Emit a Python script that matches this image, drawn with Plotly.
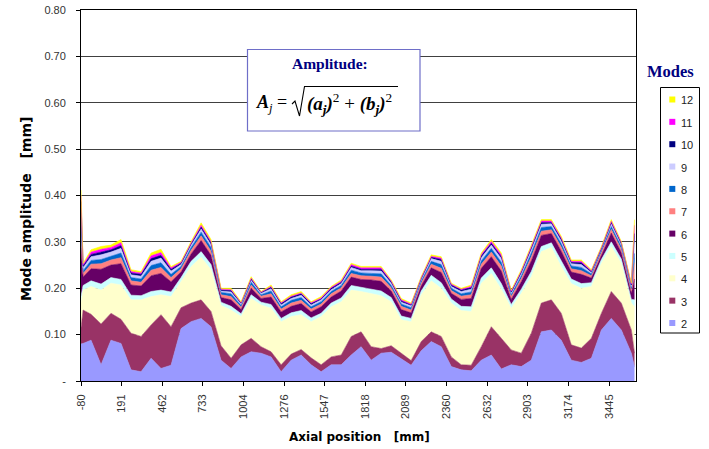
import plotly.graph_objects as go

# ---------------- data ----------------
axial_mm = [-80, -66, -13, 54, 120, 187, 254, 321, 388, 454, 521, 588, 655, 722, 788,
            855, 922, 989, 1056, 1122, 1189, 1256, 1323, 1390, 1456, 1523, 1590, 1657,
            1724, 1790, 1857, 1924, 1991, 2058, 2124, 2191, 2258, 2325, 2392, 2458,
            2525, 2592, 2659, 2726, 2792, 2859, 2926, 2993, 3060, 3126, 3193, 3260,
            3327, 3394, 3460, 3527, 3594, 3615]

mode2 = [0.080, 0.081, 0.088, 0.035, 0.088, 0.081, 0.024, 0.020, 0.049, 0.027, 0.034, 0.113,
         0.128, 0.135, 0.117, 0.045, 0.027, 0.052, 0.063, 0.060, 0.052, 0.020, 0.045, 0.056,
         0.035, 0.020, 0.035, 0.035, 0.056, 0.074, 0.045, 0.060, 0.062, 0.048, 0.034, 0.065,
         0.085, 0.074, 0.031, 0.024, 0.022, 0.045, 0.056, 0.026, 0.035, 0.031, 0.045, 0.106,
         0.110, 0.088, 0.045, 0.040, 0.049, 0.110, 0.135, 0.110, 0.060, 0.030]
mode3 = [0.035, 0.072, 0.056, 0.088, 0.058, 0.052, 0.079, 0.076, 0.072, 0.116, 0.083, 0.045,
         0.040, 0.040, 0.033, 0.031, 0.022, 0.026, 0.029, 0.014, 0.011, 0.015, 0.013, 0.012,
         0.015, 0.015, 0.017, 0.021, 0.040, 0.032, 0.029, 0.010, 0.014, 0.012, 0.010, 0.020,
         0.021, 0.022, 0.021, 0.011, 0.012, 0.029, 0.061, 0.066, 0.032, 0.029, 0.058, 0.062,
         0.065, 0.058, 0.033, 0.031, 0.043, 0.036, 0.058, 0.058, 0.050, 0.030]
mode4 = [0.055, 0.043, 0.060, 0.073, 0.065, 0.074, 0.072, 0.079, 0.061, 0.043, 0.065, 0.056,
         0.079, 0.092, 0.090, 0.087, 0.104, 0.061, 0.086, 0.090, 0.094, 0.093, 0.081, 0.075,
         0.078, 0.104, 0.108, 0.115, 0.100, 0.087, 0.115, 0.114, 0.095, 0.072, 0.084, 0.101,
         0.110, 0.104, 0.116, 0.117, 0.116, 0.137, 0.115, 0.106, 0.090, 0.129, 0.122, 0.111,
         0.113, 0.101, 0.132, 0.129, 0.112, 0.108, 0.097, 0.086, 0.058, 0.100]
mode5 = [0.012, 0.010, 0.012, 0.013, 0.012, 0.012, 0.010, 0.009, 0.011, 0.010, 0.010, 0.009,
         0.011, 0.012, 0.011, 0.007, 0.008, 0.006, 0.008, 0.006, 0.008, 0.007, 0.008, 0.009,
         0.008, 0.007, 0.008, 0.008, 0.010, 0.009, 0.010, 0.010, 0.009, 0.008, 0.007, 0.008,
         0.012, 0.012, 0.009, 0.009, 0.010, 0.011, 0.012, 0.012, 0.008, 0.009, 0.011, 0.011,
         0.010, 0.011, 0.010, 0.010, 0.008, 0.008, 0.010, 0.009, 0.008, 0.015]
mode6 = [0.105, 0.018, 0.026, 0.032, 0.027, 0.034, 0.022, 0.021, 0.034, 0.036, 0.022, 0.012,
         0.016, 0.024, 0.020, 0.010, 0.014, 0.009, 0.014, 0.008, 0.016, 0.014, 0.014, 0.015,
         0.013, 0.014, 0.013, 0.015, 0.018, 0.017, 0.019, 0.021, 0.014, 0.014, 0.012, 0.011,
         0.016, 0.022, 0.012, 0.015, 0.018, 0.021, 0.024, 0.027, 0.011, 0.016, 0.023, 0.024,
         0.020, 0.022, 0.015, 0.020, 0.010, 0.010, 0.019, 0.014, 0.013, 0.045]
mode7 = [0.025, 0.008, 0.010, 0.012, 0.011, 0.013, 0.009, 0.008, 0.012, 0.013, 0.009, 0.007,
         0.008, 0.010, 0.009, 0.006, 0.007, 0.005, 0.007, 0.005, 0.007, 0.006, 0.007, 0.007,
         0.006, 0.006, 0.007, 0.007, 0.008, 0.008, 0.008, 0.009, 0.007, 0.007, 0.006, 0.006,
         0.008, 0.009, 0.006, 0.007, 0.008, 0.009, 0.010, 0.011, 0.006, 0.007, 0.009, 0.009,
         0.008, 0.009, 0.007, 0.008, 0.005, 0.005, 0.008, 0.007, 0.006, 0.035]
mode8 = [0.030, 0.006, 0.008, 0.009, 0.008, 0.010, 0.007, 0.007, 0.010, 0.010, 0.007, 0.005,
         0.006, 0.008, 0.008, 0.005, 0.006, 0.004, 0.006, 0.003, 0.006, 0.005, 0.006, 0.006,
         0.005, 0.005, 0.005, 0.005, 0.007, 0.006, 0.006, 0.007, 0.005, 0.005, 0.005, 0.004,
         0.006, 0.008, 0.005, 0.005, 0.006, 0.007, 0.008, 0.008, 0.004, 0.006, 0.008, 0.008,
         0.007, 0.007, 0.006, 0.007, 0.004, 0.004, 0.006, 0.006, 0.005, 0.020]
mode9 = [0.020, 0.006, 0.008, 0.010, 0.009, 0.010, 0.006, 0.006, 0.009, 0.010, 0.007, 0.004,
         0.005, 0.007, 0.006, 0.003, 0.004, 0.003, 0.004, 0.003, 0.005, 0.004, 0.004, 0.005,
         0.004, 0.004, 0.004, 0.004, 0.006, 0.005, 0.006, 0.006, 0.005, 0.004, 0.004, 0.004,
         0.006, 0.007, 0.004, 0.005, 0.006, 0.007, 0.007, 0.008, 0.004, 0.005, 0.007, 0.007,
         0.006, 0.006, 0.005, 0.006, 0.003, 0.003, 0.006, 0.004, 0.004, 0.035]
mode10 = [0.025, 0.004, 0.005, 0.006, 0.005, 0.006, 0.004, 0.004, 0.006, 0.006, 0.004, 0.003,
          0.003, 0.004, 0.004, 0.002, 0.003, 0.002, 0.003, 0.002, 0.003, 0.003, 0.003, 0.003,
          0.003, 0.002, 0.003, 0.003, 0.003, 0.003, 0.003, 0.004, 0.003, 0.003, 0.002, 0.002,
          0.003, 0.004, 0.003, 0.003, 0.003, 0.004, 0.004, 0.004, 0.002, 0.003, 0.004, 0.004,
          0.003, 0.004, 0.003, 0.004, 0.002, 0.002, 0.003, 0.003, 0.003, 0.008]
mode11 = [0.013, 0.003, 0.005, 0.006, 0.005, 0.006, 0.003, 0.003, 0.006, 0.006, 0.003, 0.002,
          0.002, 0.004, 0.003, 0.002, 0.002, 0.001, 0.002, 0.001, 0.002, 0.002, 0.002, 0.002,
          0.002, 0.002, 0.002, 0.002, 0.003, 0.003, 0.003, 0.003, 0.002, 0.002, 0.002, 0.002,
          0.002, 0.003, 0.002, 0.002, 0.003, 0.003, 0.004, 0.004, 0.002, 0.002, 0.003, 0.003,
          0.003, 0.003, 0.002, 0.003, 0.002, 0.002, 0.003, 0.002, 0.002, 0.018]
mode12 = [0.012, 0.003, 0.005, 0.006, 0.005, 0.007, 0.004, 0.003, 0.006, 0.007, 0.003, 0.002,
          0.003, 0.005, 0.004, 0.002, 0.003, 0.002, 0.003, 0.001, 0.003, 0.002, 0.003, 0.003,
          0.002, 0.003, 0.002, 0.003, 0.003, 0.003, 0.003, 0.003, 0.002, 0.003, 0.002, 0.002,
          0.003, 0.003, 0.002, 0.002, 0.003, 0.003, 0.004, 0.004, 0.002, 0.003, 0.003, 0.003,
          0.003, 0.003, 0.003, 0.003, 0.002, 0.002, 0.003, 0.002, 0.002, 0.012]

mode_names = ["2", "3", "4", "5", "6", "7", "8", "9", "10", "11", "12"]
mode_values = [mode2, mode3, mode4, mode5, mode6, mode7, mode8, mode9, mode10, mode11, mode12]
mode_colors = ["#9999FF", "#993366", "#FFFFCC", "#CCFFFF", "#660066", "#FF8080",
               "#0066CC", "#CCCCFF", "#000080", "#FF00FF", "#FFFF00"]

x_tick_vals = [-80, 191, 462, 733, 1004, 1276, 1547, 1818, 2089, 2360, 2632, 2903, 3174, 3445]
y_tick_vals = [0, 0.1, 0.2, 0.3, 0.4, 0.5, 0.6, 0.7, 0.8]
y_tick_text = ["-", "0.10", "0.20", "0.30", "0.40", "0.50", "0.60", "0.70", "0.80"]

# ---------------- figure ----------------
W, H = 709, 449
L, R, T, B = 81, 636, 10, 381


def px(x):
    return (x - L) / (R - L)


def py(y):
    return (B - y) / (B - T)


fig = go.Figure()
for name, vals, col in zip(mode_names, mode_values, mode_colors):
    fig.add_trace(go.Scatter(
        x=axial_mm, y=vals, name=name, stackgroup="modes", mode="lines",
        line=dict(width=0.6, color=col), fillcolor=col, showlegend=False,
    ))

font_sans = "Liberation Sans, Arial, sans-serif"
font_bold = "DejaVu Sans, Verdana, sans-serif"
font_serif = "Liberation Serif, Times New Roman, serif"

fig.update_layout(
    width=W, height=H,
    margin=dict(l=L, r=W - R, t=T, b=H - B, pad=0, autoexpand=False),
    paper_bgcolor="white", plot_bgcolor="white",
    showlegend=False,
    font=dict(family=font_sans, size=11, color="#333333"),
    xaxis=dict(
        range=[-80, 3625], tickmode="array", tickvals=x_tick_vals,
        ticktext=[str(v) for v in x_tick_vals], tickangle=-90,
        ticks="outside", ticklen=4, tickcolor="#000", showgrid=False,
        showline=True, linecolor="#000", linewidth=1, mirror=True,
        zeroline=False, tickfont=dict(size=11, color="#333333"),
        ticklabelstandoff=4, automargin=False,
    ),
    yaxis=dict(
        range=[0, 0.8], tickmode="array", tickvals=y_tick_vals, ticktext=y_tick_text,
        ticks="outside", ticklen=4, tickcolor="#000", showgrid=True,
        gridcolor="#404040", gridwidth=1.3,
        showline=True, linecolor="#000", linewidth=1, mirror=True,
        zeroline=False, tickfont=dict(size=11, color="#333333"),
        ticklabelstandoff=8, automargin=False,
    ),
)

annotations = []
shapes = []


def note(text, x, y, size, family, color, xanchor="center", **kw):
    annotations.append(dict(text=text, x=px(x), y=py(y), xref="paper", yref="paper",
                            showarrow=False, xanchor=xanchor, yanchor="middle",
                            font=dict(family=family, size=size, color=color), **kw))


# axis titles
note("<b>Axial position   [mm]</b>", 359, 437, 12, font_bold, "#000")
note("<b>Mode amplitude   [mm]</b>", 26, 209, 14, font_bold, "#000", textangle=-90)

# formula box
shapes.append(dict(type="rect", xref="paper", yref="paper", x0=px(247.5), x1=px(420),
                   y0=py(49.5), y1=py(131), fillcolor="white",
                   line=dict(color="#6E6EC8", width=1.2), layer="above"))
note("<b>Amplitude:</b>", 330, 64, 15.5, font_serif, "#000080")
note("<b><i>A</i></b><i><sub>j</sub></i> =", 289, 103, 18, font_serif, "#000", xanchor="right")
note("<b><i>(a<sub>j</sub>)</i></b><sup>2</sup> + <b><i>(b<sub>j</sub>)</i></b><sup>2</sup>",
     305, 103, 19, font_serif, "#000", xanchor="left")
rad = "M {},{} L {},{} L {},{} L {},{} L {},{}".format(
    px(292), py(104), px(295), py(101), px(299.5), py(116), px(304.5), py(86.5),
    px(398), py(86.5))
shapes.append(dict(type="path", xref="paper", yref="paper", path=rad,
                   line=dict(color="#000", width=1.1), layer="above"))

# legend (drawn)
note("<b>Modes</b>", 670, 71, 16.5, font_serif, "#000080")
shapes.append(dict(type="rect", xref="paper", yref="paper", x0=px(660.5), x1=px(699.5),
                   y0=py(87.5), y1=py(333), line=dict(color="#000", width=1),
                   fillcolor="white", layer="above"))
for i, (name, col) in enumerate(zip(mode_names[::-1], mode_colors[::-1])):
    cy = 99.5 + i * 22.35
    shapes.append(dict(type="rect", xref="paper", yref="paper", x0=px(669.3), x1=px(675.3),
                       y0=py(cy - 3), y1=py(cy + 3), fillcolor=col,
                       line=dict(width=0), layer="above"))
    note(name, 679, cy + 1, 11, font_sans, "#222", xanchor="left")

fig.update_layout(annotations=annotations, shapes=shapes)
fig.write_html("out.html")
